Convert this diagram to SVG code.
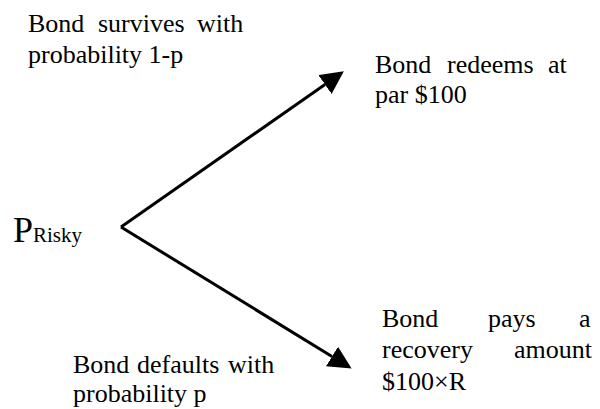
<svg xmlns="http://www.w3.org/2000/svg" width="600" height="409" viewBox="0 0 600 409">
  <style>
    .lbl { font-family: 'Liberation Serif', serif; font-size: 26px; fill: #000; }
    .edge { stroke: #000; stroke-width: 3; fill: none; }
  </style>
  <defs>
    <marker id="head" markerUnits="userSpaceOnUse" markerWidth="24" markerHeight="24" refX="0" refY="11.5" orient="auto">
      <path d="M0,0 L23,11.5 L0,23 z" fill="#000"/>
    </marker>
  </defs>
  <rect width="600" height="409" fill="#fff"/>

  <g id="connectors">
    <line class="edge" x1="121" y1="227" x2="325" y2="84.5" marker-end="url(#head)"/>
    <line class="edge" x1="121" y1="227" x2="332" y2="356.5" marker-end="url(#head)"/>
  </g>

  <g font-family="Liberation Serif" font-size="26" fill="#000">
    <g id="price">
      <text class="lbl" x="13" y="242"><tspan font-size="36" style="font-size:36px">P</tspan><tspan font-size="21" style="font-size:21px">Risky</tspan></text>
    </g>

    <g id="survive-label">
      <text class="lbl" y="32"><tspan x="28">Bond</tspan><tspan x="98">survives</tspan><tspan x="197">with</tspan></text>
      <text class="lbl" x="28" y="63">probability 1-p</text>
    </g>

    <g id="redeem">
      <text class="lbl" y="73"><tspan x="375">Bond</tspan><tspan x="447">redeems</tspan><tspan x="548">at</tspan></text>
      <text class="lbl" x="375" y="103">par $100</text>
    </g>

    <g id="default-label">
      <text class="lbl" y="373"><tspan x="73">Bond</tspan><tspan x="137">defaults</tspan><tspan x="228">with</tspan></text>
      <text class="lbl" x="73" y="402">probability p</text>
    </g>

    <g id="recovery">
      <text class="lbl" y="327"><tspan x="382">Bond</tspan><tspan x="488">pays</tspan><tspan x="579">a</tspan></text>
      <text class="lbl" y="358"><tspan x="382">recovery</tspan><tspan x="514">amount</tspan></text>
      <text class="lbl" x="382" y="390">$100×R</text>
    </g>
  </g>
</svg>
